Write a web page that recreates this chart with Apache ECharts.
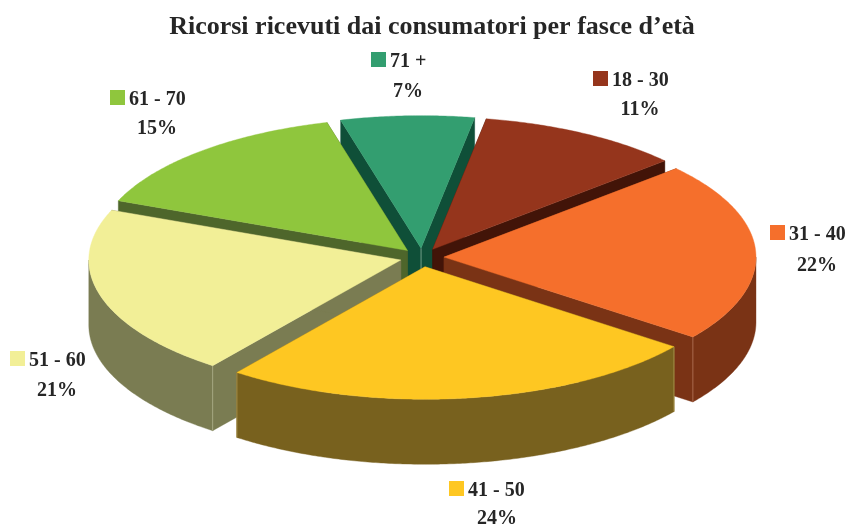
<!DOCTYPE html>
<html><head><meta charset="utf-8">
<style>html,body{margin:0;padding:0;background:#fff}#c{width:848px;height:527px}</style>
<script src="https://cdn.jsdelivr.net/npm/echarts@6/dist/echarts.min.js"></script>
</head><body><div id="c"></div>
<script>
const chartTitle = "Ricorsi ricevuti dai consumatori per fasce d’età";
const categories = ["18 - 30", "31 - 40", "41 - 50", "51 - 60", "61 - 70", "71 +"];
// share of the pie each slice occupies, as measured on the picture
const values = [10.61, 21.94, 25.0, 20.83, 14.72, 6.9];
// percentages as printed on the labels
const percentLabels = ["11%", "22%", "24%", "21%", "15%", "7%"];
const topColors = ["#95351c", "#f56f2c", "#fec722", "#f2ef97", "#8fc63d", "#339e70"];
const wallColors = ["#421408", "#7a3315", "#78611e", "#7a7c52", "#4e662b", "#0f4f38"];
const seamColors = ["#6b4a3e", "#a8674a", "#a58f4a", "#a5a780", "#7f9a55", "#6f9c88"];

// layout
const startAngle = 9.9, cx = 422, cy = 257.5, rx = 312, ry = 132.5, depth = 65, explode = 22;
const paintOrder = [5, 0, 4, 1, 3, 2];
const labelBoxes = [
  {kx: 593, ky: 71, tx: 612, px: 640, py: 110},
  {kx: 770, ky: 225, tx: 789, px: 817, py: 266},
  {kx: 449, ky: 481, tx: 468, px: 497, py: 519},
  {kx: 10, ky: 351, tx: 29, px: 57, py: 391},
  {kx: 110, ky: 90, tx: 129, px: 157, py: 129},
  {kx: 371, ky: 52, tx: 390, px: 408, py: 92}
];
const labelFont = 'bold 20px "Liberation Serif", serif';
const total = values.reduce((a, b) => a + b, 0);
const rad = d => d * Math.PI / 180;

function renderSlice(params) {
  const i = params.dataIndex;
  let a0 = startAngle;
  for (let j = 0; j < i; j++) a0 += values[j] / total * 360;
  const a1 = a0 + values[i] / total * 360, mid = (a0 + a1) / 2;
  const ax = cx + explode * Math.sin(rad(mid));
  const ay = cy - explode * (ry / rx) * Math.cos(rad(mid));
  const pt = a => [ax + rx * Math.sin(rad(a)), ay - ry * Math.cos(rad(a))];
  const down = p => [p[0], p[1] + depth];
  const arc = [];
  const n = Math.ceil(a1 - a0) * 2;
  for (let s = 0; s <= n; s++) arc.push(pt(a0 + (a1 - a0) * s / n));
  const apex = [ax, ay], first = arc[0], last = arc[arc.length - 1];
  const z = paintOrder.indexOf(i) * 10;
  const poly = (points, fill, k) => ({type: 'polygon', z2: z + k, silent: true,
    shape: {points}, style: {fill, stroke: fill, lineWidth: 0.4}});
  const children = [
    poly([apex, first, down(first), down(apex)], wallColors[i], 1),
    poly([apex, last, down(last), down(apex)], wallColors[i], 1)
  ];
  // outer rim: front half only
  const lo = Math.max(a0, 90), hi = Math.min(a1, 270);
  if (lo < hi) {
    const rim = [];
    const m = Math.ceil(hi - lo) * 2;
    for (let s = 0; s <= m; s++) rim.push(pt(lo + (hi - lo) * s / m));
    children.push(poly(rim.concat(rim.slice().reverse().map(down)), wallColors[i], 2));
  }
  // seams
  const seam = (p) => ({type: 'line', z2: z + 3, silent: true,
    shape: {x1: p[0], y1: p[1], x2: p[0], y2: p[1] + depth},
    style: {stroke: seamColors[i], lineWidth: 1}});
  if (a1 % 360 > 90 && a1 % 360 < 270) children.push(seam(last));
  if (a0 % 360 > 90 && a0 % 360 < 270) children.push(seam(first));
  if (i === 5) children.push(seam(apex));
  children.push(poly([apex].concat(arc), topColors[i], 4));
  // label
  const b = labelBoxes[i];
  children.push({type: 'rect', z2: 200, silent: true, shape: {x: b.kx, y: b.ky, width: 15, height: 15},
    style: {fill: topColors[i]}});
  children.push({type: 'text', z2: 200, silent: true, x: b.tx, y: b.ky + 10,
    style: {text: categories[i], font: labelFont, fill: '#262626', textAlign: 'left', textVerticalAlign: 'middle'}});
  children.push({type: 'text', z2: 200, silent: true, x: b.px, y: b.py,
    style: {text: percentLabels[i], font: labelFont, fill: '#262626', textAlign: 'center', textVerticalAlign: 'middle'}});
  return {type: 'group', children};
}

const chart = echarts.init(document.getElementById('c'), null, {renderer: 'canvas'});
chart.setOption({
  animation: false,
  backgroundColor: '#fff',
  title: {text: chartTitle, left: 427, top: 9, textAlign: 'center',
    textStyle: {fontFamily: '"Liberation Serif", serif', fontWeight: 'bold', fontSize: 26, color: '#262626'}},
  series: [{type: 'custom', coordinateSystem: 'none', renderItem: renderSlice,
    data: categories.map((c, i) => ({name: c, value: values[i]}))}]
});
</script></body></html>
